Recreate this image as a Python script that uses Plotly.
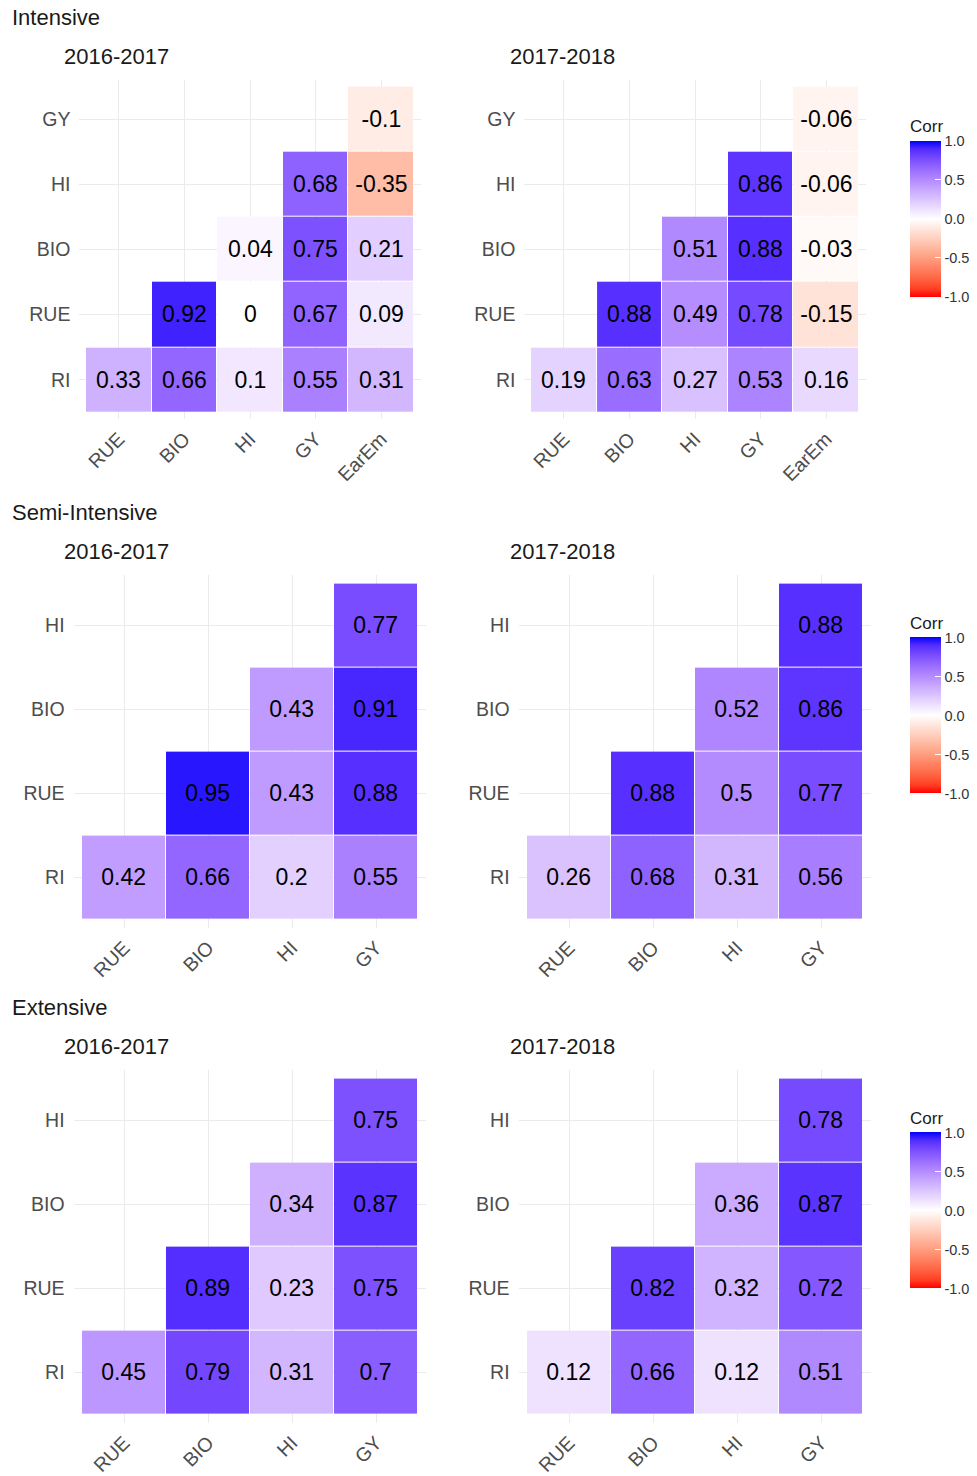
import plotly.graph_objects as go

# ---- data -------------------------------------------------------------
x_int = ["RUE", "BIO", "HI", "GY", "EarEm"]
y_int = ["RI", "RUE", "BIO", "HI", "GY"]
x_semi = ["RUE", "BIO", "HI", "GY"]
y_semi = ["RI", "RUE", "BIO", "HI"]

# rows follow y order (bottom to top)
intensive_1617 = [
    [0.33, 0.66, 0.10, 0.55, 0.31],
    [None, 0.92, 0.00, 0.67, 0.09],
    [None, None, 0.04, 0.75, 0.21],
    [None, None, None, 0.68, -0.35],
    [None, None, None, None, -0.10],
]
intensive_1718 = [
    [0.19, 0.63, 0.27, 0.53, 0.16],
    [None, 0.88, 0.49, 0.78, -0.15],
    [None, None, 0.51, 0.88, -0.03],
    [None, None, None, 0.86, -0.06],
    [None, None, None, None, -0.06],
]
semi_1617 = [
    [0.42, 0.66, 0.20, 0.55],
    [None, 0.95, 0.43, 0.88],
    [None, None, 0.43, 0.91],
    [None, None, None, 0.77],
]
semi_1718 = [
    [0.26, 0.68, 0.31, 0.56],
    [None, 0.88, 0.50, 0.77],
    [None, None, 0.52, 0.86],
    [None, None, None, 0.88],
]
extensive_1617 = [
    [0.45, 0.79, 0.31, 0.70],
    [None, 0.89, 0.23, 0.75],
    [None, None, 0.34, 0.87],
    [None, None, None, 0.75],
]
extensive_1718 = [
    [0.12, 0.66, 0.12, 0.51],
    [None, 0.82, 0.32, 0.72],
    [None, None, 0.36, 0.87],
    [None, None, None, 0.78],
]

groups = ["Intensive", "Semi-Intensive", "Extensive"]
seasons = ["2016-2017", "2017-2018"]
cbar_ticks = [-1.0, -0.5, 0.0, 0.5, 1.0]


# ---- diverging red-white-blue scale interpolated in CIE Lab -------------
def _lin(c):
    c /= 255.0
    return c / 12.92 if c <= 0.04045 else ((c + 0.055) / 1.055) ** 2.4


def _gam(c):
    c = 12.92 * c if c <= 0.0031308 else 1.055 * c ** (1 / 2.4) - 0.055
    return min(255, max(0, round(c * 255)))


WX, WY, WZ = 0.95047, 1.0, 1.08883


def rgb2lab(rgb):
    r, g, b = (_lin(float(v)) for v in rgb)
    X = 0.4124 * r + 0.3576 * g + 0.1805 * b
    Y = 0.2126 * r + 0.7152 * g + 0.0722 * b
    Z = 0.0193 * r + 0.1192 * g + 0.9505 * b

    def f(t):
        return t ** (1 / 3) if t > 0.008856 else 7.787 * t + 16 / 116

    fx_, fy_, fz_ = f(X / WX), f(Y / WY), f(Z / WZ)
    return (116 * fy_ - 16, 500 * (fx_ - fy_), 200 * (fy_ - fz_))


def lab2rgb(lab):
    L, a, b = lab
    fy_ = (L + 16) / 116
    fx_ = fy_ + a / 500
    fz_ = fy_ - b / 200

    def finv(t):
        return t ** 3 if t ** 3 > 0.008856 else (t - 16 / 116) / 7.787

    X, Y, Z = WX * finv(fx_), WY * finv(fy_), WZ * finv(fz_)
    r = 3.2406 * X - 1.5372 * Y - 0.4986 * Z
    g = -0.9689 * X + 1.8758 * Y + 0.0415 * Z
    bb = 0.0557 * X - 0.2040 * Y + 1.0570 * Z
    return (_gam(r), _gam(g), _gam(bb))


RED, WHITE, BLUE = rgb2lab((255, 0, 0)), rgb2lab((255, 255, 255)), rgb2lab((0, 0, 255))


def mix(c1, c2, t):
    return tuple(c1[i] + (c2[i] - c1[i]) * t for i in range(3))


colorscale = []
N = 20
for i in range(N + 1):
    v = -1 + 2 * i / N
    lab = mix(WHITE, RED, -v) if v < 0 else mix(WHITE, BLUE, v)
    r, g, b = lab2rgb(lab)
    colorscale.append([i / N, f"rgb({r},{g},{b})"])

# ---- layout geometry (pixels) ------------------------------------------
W, H = 977, 1476
FONT = "Liberation Sans, Arial, sans-serif"


def fx(px):
    return px / W


def fy(px):
    return 1 - px / H


# tile extents per panel: (left, right, top, bottom)
panels = [
    [(86, 414, 87, 414), (531, 859, 87, 414)],
    [(82, 418, 586, 923), (527, 863, 586, 923)],
    [(82, 418, 1083, 1420), (527, 863, 1083, 1420)],
]
group_title_y = [18, 515, 1012]
season_title_y = [57, 554, 1051]
season_title_x = [62, 508]
cbar_top_y = [117, 616, 1113]

data = [
    (x_int, y_int, [intensive_1617, intensive_1718]),
    (x_semi, y_semi, [semi_1617, semi_1718]),
    (x_semi, y_semi, [extensive_1617, extensive_1718]),
]

fig = go.Figure()
layout_axes = {}
annotations = []
EXP = 0.1  # axis padding around the tiles, in category units

k = 0
for gi, (xs, ys, mats) in enumerate(data):
    cax = "coloraxis" if gi == 0 else f"coloraxis{gi + 1}"
    for si, mat in enumerate(mats):
        k += 1
        xa = "x" if k == 1 else f"x{k}"
        ya = "y" if k == 1 else f"y{k}"
        text = [["" if v is None else f"{v:g}" for v in row] for row in mat]
        fig.add_trace(go.Heatmap(
            x=xs, y=ys, z=mat, text=text, texttemplate="%{text}",
            textfont=dict(size=23, color="black", family=FONT),
            coloraxis=cax, xgap=1, ygap=1, hoverinfo="skip",
            xaxis=xa, yaxis=ya,
        ))
        l, r, t, b = panels[gi][si]
        n = len(xs)
        cw = (r - l) / n
        ch = (b - t) / n
        xd = [fx(l - EXP * cw), fx(r + EXP * cw)]
        yd = [fy(b + EXP * ch), fy(t - EXP * ch)]
        axis_common = dict(
            type="category", showgrid=True, gridcolor="#ebebeb", gridwidth=1.3,
            zeroline=False, showline=False, ticks="",
            tickfont=dict(size=19.5, color="#4d4d4d", family=FONT),
            range=[-0.5 - EXP, n - 0.5 + EXP], fixedrange=True,
        )
        layout_axes["xaxis" if k == 1 else f"xaxis{k}"] = dict(
            axis_common, domain=xd, anchor=ya, categoryorder="array",
            categoryarray=xs, tickangle=-45, ticklabelstandoff=4,
        )
        layout_axes["yaxis" if k == 1 else f"yaxis{k}"] = dict(
            axis_common, domain=yd, anchor=xa, categoryorder="array",
            categoryarray=ys, ticklabelstandoff=8,
        )
        annotations.append(dict(
            text=seasons[si], x=fx(season_title_x[si]), y=fy(season_title_y[gi]),
            xref="paper", yref="paper", xanchor="left", yanchor="middle",
            showarrow=False, font=dict(size=22, color="#1a1a1a", family=FONT),
        ))
    annotations.append(dict(
        text=groups[gi], x=fx(10), y=fy(group_title_y[gi]),
        xref="paper", yref="paper", xanchor="left", yanchor="middle",
        showarrow=False, font=dict(size=22, color="#1a1a1a", family=FONT),
    ))
    layout_axes[cax] = dict(
        colorscale=colorscale, cmin=-1, cmax=1,
        colorbar=dict(
            title=dict(text="Corr", side="top",
                       font=dict(size=17, color="#1a1a1a", family=FONT)),
            x=fx(910), xanchor="left", xref="paper", xpad=0,
            y=fy(cbar_top_y[gi]), yanchor="top", yref="paper", ypad=0,
            len=180, lenmode="pixels", thickness=31, thicknessmode="pixels",
            outlinewidth=0, tickvals=cbar_ticks,
            ticktext=[f"{v:.1f}" for v in cbar_ticks],
            ticks="inside", tickcolor="white", ticklen=6,
            tickfont=dict(size=14.5, color="#333333", family=FONT),
        ),
    )

fig.update_layout(
    width=W, height=H, margin=dict(l=0, r=0, t=0, b=0),
    paper_bgcolor="white", plot_bgcolor="white",
    showlegend=False, annotations=annotations, **layout_axes,
)

fig.write_html("out.html")
